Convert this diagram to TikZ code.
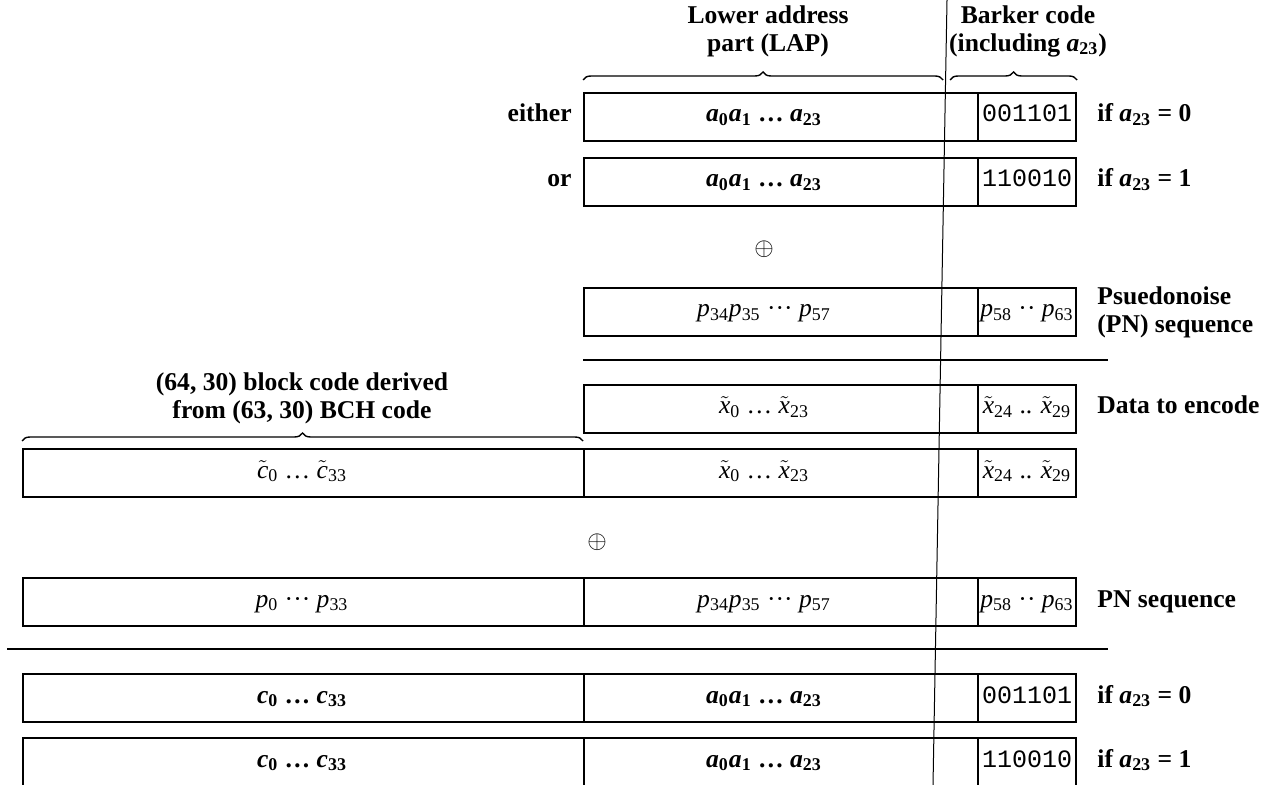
\documentclass[tikz,border=0pt]{standalone}
\usepackage{fontspec}
\setmainfont{Liberation Serif}
\newfontfamily\monofont{Liberation Mono}
\usetikzlibrary{decorations.pathreplacing}
\newcommand\fs{\fontsize{12.8}{14}\selectfont}
\newcommand\sv[2]{\textit{#1}\textsubscript{#2}}
\newcommand\tv[2]{\ensuremath{\tilde{\mbox{\itshape #1}}}\textsubscript{#2}}
\newcommand\mdots{\textperiodcentered\textperiodcentered\textperiodcentered}
\newcommand\tdots{\textperiodcentered\textperiodcentered}
\begin{document}
\begin{tikzpicture}[x=0.5pt,y=-0.5pt,
  cell/.style={draw, line width=0.9pt, minimum height=24pt, inner sep=0pt, anchor=north west},
  txt/.style={font=\fs, inner sep=0pt, anchor=base},
  bl/.style={font=\fs\bfseries, inner sep=0pt},
  rl/.style={font=\fs\bfseries, inner sep=0pt, anchor=base west},
  bk/.style={font=\fontsize{12.5}{14}\selectfont\monofont, inner sep=0pt, anchor=base},
  xor/.style={inner sep=0pt, scale=1.25},
  sep/.style={line width=0.9pt},
  brc/.style={decorate, decoration={brace, amplitude=4pt}, line width=0.7pt}]
\useasboundingbox (0,0) rectangle (1272,785);

% headers
\node[bl, align=center] (hlap) at (768,31) {Lower address\\part (LAP)};
\node[bl, align=center] (hbar) at (1028,31) {Barker code\\(including \sv{a}{23})};
\coordinate (bl1a) at (583,80); \coordinate (bl1b) at (943,80);
\coordinate (bb1a) at (950,80); \coordinate (bb1b) at (1077,80);
\draw[brc] (bl1a) -- (bl1b);
\draw[brc] (bb1a) -- (bb1b);

% row 1
\node[cell, minimum width=197pt] (r1l) at (583,92) {};
\node[cell, minimum width=49pt] (r1b) at (977,92) {};
\node[txt] (t1l) at (764,122) {\bfseries\sv{a}{0}\sv{a}{1} \dots{} \sv{a}{23}};
\node[bk] (t1b) at (1027,122) {001101};
\node[bl, anchor=base east] (either) at (572,122) {either};
\node[rl] (c1) at (1097,122) {if \sv{a}{23} = 0};

% row 2
\node[cell, minimum width=197pt] (r2l) at (583,157) {};
\node[cell, minimum width=49pt] (r2b) at (977,157) {};
\node[txt] (t2l) at (764,187) {\bfseries\sv{a}{0}\sv{a}{1} \dots{} \sv{a}{23}};
\node[bk] (t2b) at (1027,187) {110010};
\node[bl, anchor=base east] (or) at (572,187) {or};
\node[rl] (c2) at (1097,187) {if \sv{a}{23} = 1};

\node[xor] (x1) at (764,249) {$\oplus$};

% row 3
\node[cell, minimum width=197pt] (r3l) at (583,287) {};
\node[cell, minimum width=49pt] (r3b) at (977,287) {};
\node[txt] (t3l) at (764,317) {\sv{p}{34}\sv{p}{35} \mdots{} \sv{p}{57}};
\node[txt] (t3b) at (1027,317) {\sv{p}{58} \tdots{} \sv{p}{63}};
\node[bl, anchor=west, align=left] (c3) at (1097,312) {Psuedonoise\\(PN) sequence};

\coordinate (s1a) at (583,360); \coordinate (s1b) at (1108,360);
\draw[sep] (s1a) -- (s1b);

% row 4
\node[bl, align=center] (hbch) at (302,398) {(64, 30) block code derived\\from (63, 30) BCH code};
\node[cell, minimum width=197pt] (r4l) at (583,384) {};
\node[cell, minimum width=49pt] (r4b) at (977,384) {};
\node[txt] (t4l) at (764,414) {\tv{x}{0} \dots{} \tv{x}{23}};
\node[txt] (t4b) at (1027,414) {\tv{x}{24} .. \tv{x}{29}};
\node[rl] (c4) at (1097,414) {Data to encode};

\coordinate (bc1a) at (22,441); \coordinate (bc1b) at (583,441);
\draw[brc] (bc1a) -- (bc1b);

% row 5
\node[cell, minimum width=280.5pt] (r5c) at (22,448) {};
\node[cell, minimum width=197pt] (r5l) at (583,448) {};
\node[cell, minimum width=49pt] (r5b) at (977,448) {};
\node[txt] (t5c) at (302,478) {\tv{c}{0} \dots{} \tv{c}{33}};
\node[txt] (t5l) at (764,478) {\tv{x}{0} \dots{} \tv{x}{23}};
\node[txt] (t5b) at (1027,478) {\tv{x}{24} .. \tv{x}{29}};

\node[xor] (x2) at (597,542) {$\oplus$};

% row 6
\node[cell, minimum width=280.5pt] (r6c) at (22,577) {};
\node[cell, minimum width=197pt] (r6l) at (583,577) {};
\node[cell, minimum width=49pt] (r6b) at (977,577) {};
\node[txt] (t6c) at (302,607) {\sv{p}{0} \mdots{} \sv{p}{33}};
\node[txt] (t6l) at (764,607) {\sv{p}{34}\sv{p}{35} \mdots{} \sv{p}{57}};
\node[txt] (t6b) at (1027,607) {\sv{p}{58} \tdots{} \sv{p}{63}};
\node[rl] (c6) at (1097,607) {PN sequence};

\coordinate (s2a) at (7,649); \coordinate (s2b) at (1108,649);
\draw[sep] (s2a) -- (s2b);

% row 7
\node[cell, minimum width=280.5pt] (r7c) at (22,673) {};
\node[cell, minimum width=197pt] (r7l) at (583,673) {};
\node[cell, minimum width=49pt] (r7b) at (977,673) {};
\node[txt] (t7c) at (302,703) {\bfseries\sv{c}{0} \dots{} \sv{c}{33}};
\node[txt] (t7l) at (764,703) {\bfseries\sv{a}{0}\sv{a}{1} \dots{} \sv{a}{23}};
\node[bk] (t7b) at (1027,703) {001101};
\node[rl] (c7) at (1097,703) {if \sv{a}{23} = 0};

% row 8
\node[cell, minimum width=280.5pt] (r8c) at (22,737) {};
\node[cell, minimum width=197pt] (r8l) at (583,737) {};
\node[cell, minimum width=49pt] (r8b) at (977,737) {};
\node[txt] (t8c) at (302,767) {\bfseries\sv{c}{0} \dots{} \sv{c}{33}};
\node[txt] (t8l) at (764,767) {\bfseries\sv{a}{0}\sv{a}{1} \dots{} \sv{a}{23}};
\node[bk] (t8b) at (1027,767) {110010};
\node[rl] (c8) at (1097,767) {if \sv{a}{23} = 1};

% long vertical line
\coordinate (vt) at (947,0); \coordinate (vb) at (933,785);
\draw[line width=0.5pt] (vt) -- (vb);
\end{tikzpicture}
\end{document}
